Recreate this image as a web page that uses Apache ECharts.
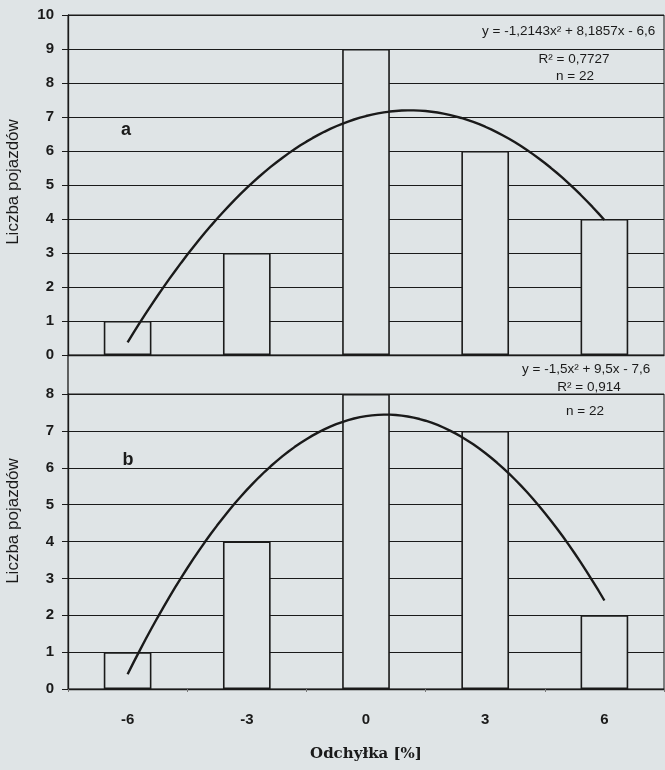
<!DOCTYPE html>
<html>
<head>
<meta charset="utf-8">
<script src="https://cdn.jsdelivr.net/npm/echarts@6/dist/echarts.min.js"></script>
<style>
html,body{margin:0;padding:0;background:#dfe4e6;}
#chart{width:665px;height:770px;}
</style>
</head>
<body>
<div id="chart"></div>
<script>
// ---- data ----
const categories = ['-6', '-3', '0', '3', '6'];
const countsA = [1, 3, 9, 6, 4];
const countsB = [1, 4, 8, 7, 2];
// trend-line coefficients printed on the chart: y = a x^2 + b x + c (x = class index 1..5)
const fitA = [-1.2143, 8.1857, -6.6];
const fitB = [-1.5, 9.5, -7.6];
const eqTextA = ['y = -1,2143x\u00B2 + 8,1857x - 6,6', 'R\u00B2 = 0,7727', 'n = 22'];
const eqTextB = ['y = -1,5x\u00B2 + 9,5x - 7,6', 'R\u00B2 = 0,914', 'n = 22'];
const yMaxA = 10;
const yMaxB = 8;
const panelLabels = ['a', 'b'];
const yTitle = 'Liczba pojazdów';
const xTitle = 'Odchyłka [%]';

function trend(coef) {
  const pts = [];
  for (let i = 0; i <= 80; i++) {
    const x = 1 + i * 0.05;
    pts.push([x, coef[0] * x * x + coef[1] * x + coef[2]]);
  }
  return pts;
}

const BG = '#dfe4e6';
const INK = '#1a1a1a';
const gridA = {left: 68, right: 1, top: 15, height: 340};
const gridB = {left: 68, right: 1, top: 394, height: 295};

function catAxis(gi, showLabels) {
  return {
    type: 'category', gridIndex: gi, data: categories,
    boundaryGap: true,
    axisLine: {show: true, lineStyle: {color: INK, width: 1.3}},
    axisTick: {show: showLabels, length: 3, lineStyle: {color: '#777'}},
    axisLabel: {show: showLabels, margin: 23, color: INK, fontSize: 15, fontWeight: 'bold', fontFamily: 'Liberation Sans'},
    splitLine: {show: false}
  };
}
function valXAxis(gi) {
  return {type: 'value', gridIndex: gi, min: 0.5, max: 5.5, show: false};
}
function yAx(gi, max) {
  return {
    type: 'value', gridIndex: gi, min: 0, max: max, interval: 1,
    axisLine: {show: true, lineStyle: {color: INK, width: 1.3}},
    axisTick: {show: true, length: 6, lineStyle: {color: INK}},
    axisLabel: {margin: 14, color: INK, fontSize: 15, fontWeight: 'bold', fontFamily: 'Liberation Sans'},
    splitLine: {show: true, lineStyle: {color: INK, width: 1.2}}
  };
}

function barSeries(xi, yi, data) {
  return {
    type: 'bar', xAxisIndex: xi, yAxisIndex: yi, data: data,
    barWidth: '40%',
    itemStyle: {color: BG, borderColor: INK, borderWidth: 1.6},
    z: 3, silent: true
  };
}
function lineSeries(xi, yi, coef) {
  return {
    type: 'line', xAxisIndex: xi, yAxisIndex: yi, data: trend(coef),
    showSymbol: false, symbol: 'none',
    lineStyle: {color: INK, width: 2.4},
    z: 5, silent: true
  };
}

const FONT_SM = '13.5px "Liberation Sans", Arial, sans-serif';
const chart = echarts.init(document.getElementById('chart'), null, {renderer: 'canvas'});
chart.setOption({
  backgroundColor: BG,
  animation: false,
  grid: [
    Object.assign({show: true, borderColor: INK, borderWidth: 1, backgroundColor: 'transparent'}, gridA),
    Object.assign({show: true, borderColor: INK, borderWidth: 1, backgroundColor: 'transparent'}, gridB)
  ],
  xAxis: [
    catAxis(0, false), valXAxis(0),
    Object.assign(catAxis(1, true), {
      name: xTitle, nameLocation: 'middle', nameGap: 58,
      nameTextStyle: {color: INK, fontSize: 15, fontWeight: 'bold', fontFamily: 'DejaVu Serif'}
    }),
    valXAxis(1)
  ],
  yAxis: [yAx(0, yMaxA), yAx(1, yMaxB)],
  series: [
    barSeries(0, 0, countsA),
    lineSeries(1, 0, fitA),
    barSeries(2, 1, countsB),
    lineSeries(3, 1, fitB)
  ],
  graphic: [
    {type: 'line', shape: {x1: 68, y1: 355, x2: 68, y2: 394}, style: {stroke: INK, lineWidth: 1.3}},
    // y-axis titles
    {type: 'text', x: 13, y: 182, rotation: Math.PI / 2,
     style: {text: yTitle, fill: INK, font: '17px "Liberation Sans", Arial, sans-serif', textAlign: 'center', textVerticalAlign: 'middle'}},
    {type: 'text', x: 13, y: 521, rotation: Math.PI / 2,
     style: {text: yTitle, fill: INK, font: '17px "Liberation Sans", Arial, sans-serif', textAlign: 'center', textVerticalAlign: 'middle'}},
    // panel labels
    {type: 'text', x: 126, y: 130, style: {text: panelLabels[0], fill: INK, font: 'bold 18px "Liberation Sans", Arial', textAlign: 'center', textVerticalAlign: 'middle'}},
    {type: 'text', x: 128, y: 460, style: {text: panelLabels[1], fill: INK, font: 'bold 18px "Liberation Sans", Arial', textAlign: 'center', textVerticalAlign: 'middle'}},
    // equations panel a
    {type: 'text', x: 482, y: 24, style: {text: eqTextA[0], fill: INK, font: FONT_SM, textAlign: 'left'}},
    {type: 'text', x: 574, y: 52, style: {text: eqTextA[1], fill: INK, font: FONT_SM, textAlign: 'center'}},
    {type: 'text', x: 575, y: 69, style: {text: eqTextA[2], fill: INK, font: FONT_SM, textAlign: 'center'}},
    // equations panel b
    {type: 'text', x: 522, y: 362, style: {text: eqTextB[0], fill: INK, font: FONT_SM, textAlign: 'left'}},
    {type: 'text', x: 589, y: 380, style: {text: eqTextB[1], fill: INK, font: FONT_SM, textAlign: 'center'}},
    {type: 'text', x: 585, y: 404, style: {text: eqTextB[2], fill: INK, font: FONT_SM, textAlign: 'center'}}
  ]
});
</script>
</body>
</html>
